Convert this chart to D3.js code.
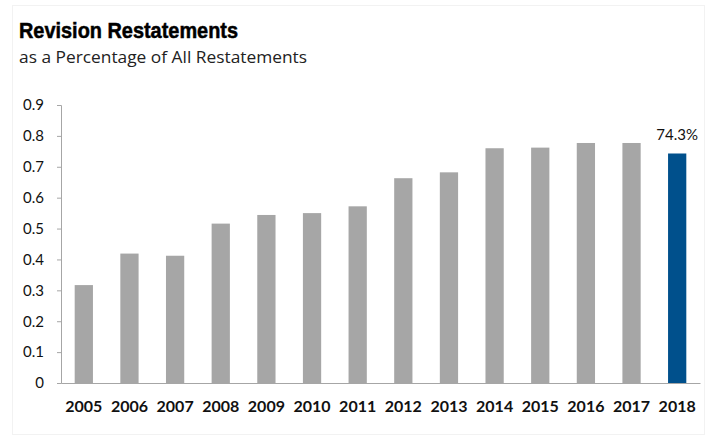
<!DOCTYPE html>
<html>
<head>
<meta charset="utf-8">
<script src="https://cdn.jsdelivr.net/npm/d3@7"></script>
<style>
  html, body { margin: 0; padding: 0; background: #fff; }
  svg { display: block; }
  .title { font-family: "Liberation Sans", Arial, sans-serif; font-weight: bold; }
  .sub { font-family: "Open Sans", "Noto Sans", sans-serif; }
  .tick text, .val { font-family: Lato, "Open Sans", "Noto Sans", sans-serif; }
</style>
</head>
<body>
<svg id="chart" width="706" height="437"></svg>
<script>
// Share of revision restatements among all restatements, by year
const years = ["2005","2006","2007","2008","2009","2010","2011","2012","2013","2014","2015","2016","2017","2018"];
const shares = [0.317, 0.419, 0.412, 0.516, 0.544, 0.550, 0.572, 0.663, 0.682, 0.760, 0.762, 0.777, 0.777, 0.743];
const yTicks = [0, 0.1, 0.2, 0.3, 0.4, 0.5, 0.6, 0.7, 0.8, 0.9];
const highlightYear = "2018";

const svg = d3.select("#chart");
const W = 706, H = 437;
const plot = { left: 61, right: 700, top: 105, bottom: 383 };

// faint frame
svg.append("rect")
  .attr("x", 12.5).attr("y", 5.5).attr("width", W - 14).attr("height", H - 8)
  .attr("fill", "none").attr("stroke", "#f2f2f2");

// condensed bold heading
svg.append("text").attr("class", "title")
  .attr("x", 19).attr("y", 37.5)
  .attr("font-size", 22).attr("fill", "#000")
  .attr("textLength", 219).attr("lengthAdjust", "spacingAndGlyphs")
  .attr("stroke", "#000").attr("stroke-width", 0.5)
  .text("Revision Restatements");

svg.append("text").attr("class", "sub")
  .attr("x", 19).attr("y", 63)
  .attr("font-size", 16).attr("fill", "#222")
  .attr("textLength", 288).attr("lengthAdjust", "spacingAndGlyphs")
  .text("as a Percentage of All Restatements");

const x = d3.scaleBand().domain(years).range([plot.left, plot.right]).paddingInner(0.6).paddingOuter(0.3);
const y = d3.scaleLinear().domain([0, 0.9]).range([plot.bottom, plot.top]);

// bars
svg.append("g").selectAll("rect")
  .data(years.map((yr, i) => ({ yr, v: shares[i] })))
  .join("rect")
  .attr("x", d => x(d.yr))
  .attr("width", x.bandwidth())
  .attr("y", d => y(d.v))
  .attr("height", d => y(0) - y(d.v))
  .attr("fill", d => d.yr === highlightYear ? "#00508c" : "#a6a6a6");

// y axis
const yAxis = svg.append("g")
  .attr("transform", `translate(${plot.left},0)`)
  .call(d3.axisLeft(y).tickValues(yTicks).tickFormat(d => d === 0 ? "0" : d3.format(".1f")(d)).tickSize(4).tickPadding(13));
yAxis.select(".domain").attr("stroke", "#a6a6a6");
yAxis.selectAll(".tick line").attr("stroke", "#a6a6a6");
yAxis.selectAll(".tick text").attr("font-size", 15).attr("fill", "#111");

// x axis
const xAxis = svg.append("g")
  .attr("transform", `translate(0,${plot.bottom})`)
  .call(d3.axisBottom(x).tickSize(0).tickPadding(18));
xAxis.select(".domain").attr("stroke", "#a6a6a6");
xAxis.selectAll(".tick text")
  .attr("font-size", 16).attr("font-weight", "bold").attr("fill", "#111");

// value label on highlighted bar
const hi = years.indexOf(highlightYear);
svg.append("text").attr("class", "val")
  .attr("x", x(highlightYear) + x.bandwidth() / 2)
  .attr("y", y(shares[hi]) - 13)
  .attr("text-anchor", "middle")
  .attr("font-size", 15).attr("fill", "#111")
  .text(d3.format(".1%")(shares[hi]));
</script>
</body>
</html>
